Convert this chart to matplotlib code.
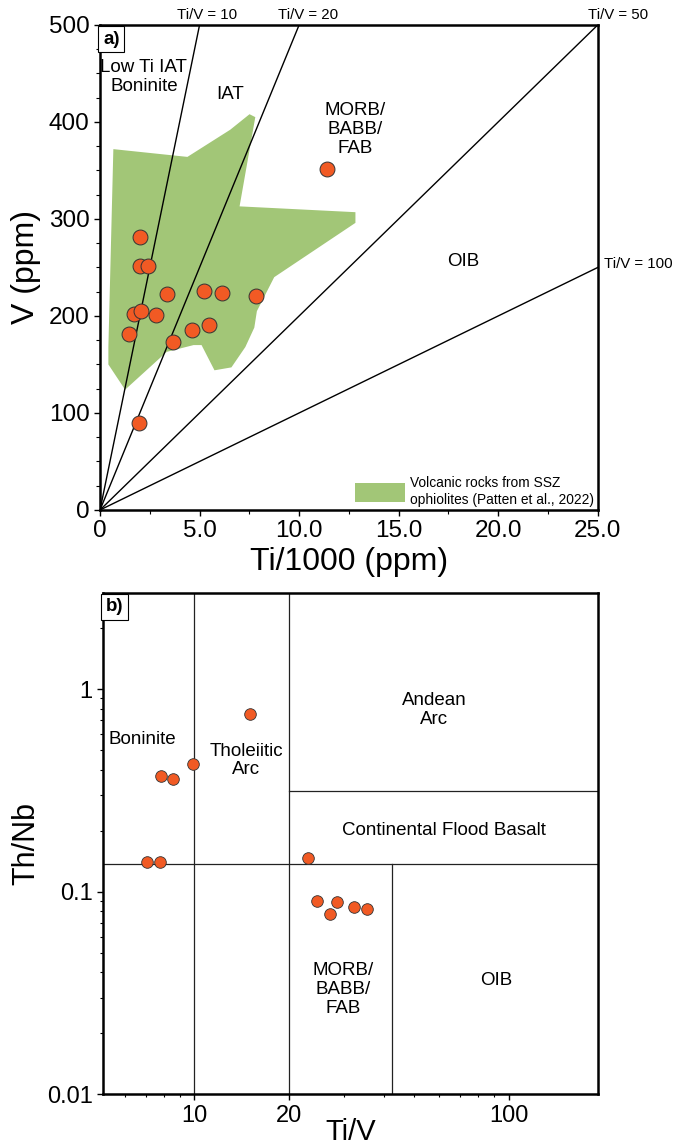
import matplotlib.pyplot as plt
import numpy as np
from matplotlib.patches import Patch, Polygon

plt.rcParams['font.family'] = ['Liberation Sans', 'DejaVu Sans']

# ---- panel a) Ti vs V data ----
ti_a = [2.0, 2.0, 2.43, 3.35, 5.23, 6.12, 7.85, 1.71, 2.05, 2.8, 1.47, 4.6, 5.45, 3.67, 1.98, 11.4]
v_a = [281, 252, 252, 223, 226, 224, 221, 202, 205, 201, 181, 186, 191, 173, 90, 352]

# SSZ ophiolite field (Patten et al., 2022), outline vertices
field_ti = [0.67, 4.39, 6.54, 7.51, 7.80, 7.01, 12.83, 12.83, 8.75, 7.88, 7.75, 7.3,
            6.6, 5.75, 5.1, 4.7, 3.35, 1.26, 0.42, 0.42]
field_v = [372, 364, 392, 408, 405, 313, 307, 296, 240, 205, 188, 168,
           147, 144, 170, 170, 163, 124, 150, 168]

tiv_ratios = [10, 20, 50, 100]

# ---- panel b) Ti/V vs Th/Nb data ----
tiv_b = [15.0, 9.92, 7.81, 8.57, 7.05, 7.77, 22.96, 24.6, 28.4, 27.1, 32.2, 35.4]
thnb_b = [0.753, 0.429, 0.371, 0.360, 0.140, 0.140, 0.147, 0.090, 0.089, 0.078, 0.084, 0.082]

orange = '#F15A24'
green = '#A2C677'
reg_fs = 13.5

fig = plt.figure(figsize=(6.86, 11.46), dpi=100)

# ================= panel a =================
ax1 = fig.add_axes([0.1458, 0.555, 0.7255, 0.4232])
ax1.set_xlim(0, 25)
ax1.set_ylim(0, 500)

ax1.add_patch(Polygon(np.column_stack([field_ti, field_v]), closed=True,
                      facecolor=green, edgecolor='none', zorder=1))

xx = np.array([0, 25])
for r in tiv_ratios:
    ax1.plot(xx, xx * 1000 / r, color='black', lw=1.0, zorder=2)

ax1.scatter(ti_a, v_a, s=115, color=orange, edgecolor='#333333', linewidth=0.7, zorder=3)

ax1.text(5.37, 503, 'Ti/V = 10', fontsize=10.8, ha='center', va='bottom', clip_on=False)
ax1.text(10.46, 503, 'Ti/V = 20', fontsize=10.8, ha='center', va='bottom', clip_on=False)
ax1.text(26.0, 503, 'Ti/V = 50', fontsize=10.8, ha='center', va='bottom', clip_on=False)
ax1.text(25.3, 254, 'Ti/V = 100', fontsize=10.8, ha='left', va='center', clip_on=False)

ax1.text(2.2, 446, 'Low Ti IAT\nBoninite', fontsize=reg_fs, ha='center', va='center', linespacing=1.15)
ax1.text(6.54, 428, 'IAT', fontsize=reg_fs, ha='center', va='center')
ax1.text(12.8, 392, 'MORB/\nBABB/\nFAB', fontsize=reg_fs, ha='center', va='center', linespacing=1.15)
ax1.text(18.27, 256, 'OIB', fontsize=reg_fs, ha='center', va='center')

ax1.text(0.006, 0.988, 'a)', transform=ax1.transAxes, fontsize=13.5, fontweight='bold',
         ha='left', va='top',
         bbox=dict(boxstyle='square,pad=0.25', facecolor='white', edgecolor='black', lw=0.8))

ax1.set_xticks([0, 5, 10, 15, 20, 25])
ax1.set_xticklabels(['0', '5.0', '10.0', '15.0', '20.0', '25.0'])
ax1.set_xticks(np.arange(0, 25.1, 2.5), minor=True)
ax1.set_yticks([0, 100, 200, 300, 400, 500])
ax1.set_yticks(np.arange(0, 501, 25), minor=True)
ax1.tick_params(axis='both', which='major', labelsize=17.5, length=4, width=1, direction='out')
ax1.tick_params(axis='both', which='minor', length=3, width=0.8, direction='out')
for s in ax1.spines.values():
    s.set_linewidth(1.8)

ax1.set_xlabel('Ti/1000 (ppm)', fontsize=23, labelpad=3)
ax1.set_ylabel('V (ppm)', fontsize=23, labelpad=6)

ax1.legend(handles=[Patch(facecolor=green, edgecolor='none',
                          label='Volcanic rocks from SSZ\nophiolites (Patten et al., 2022)')],
           loc='lower right', frameon=False, fontsize=9.9, handlelength=3.6,
           handleheight=1.7, handletextpad=0.4, borderaxespad=0.05, borderpad=0.2)

# ================= panel b =================
ax2 = fig.add_axes([0.1501, 0.0451, 0.7211, 0.4372])
ax2.set_xscale('log')
ax2.set_yscale('log')
ax2.set_xlim(5.12, 192)
ax2.set_ylim(0.01, 2.97)

lc = '#222222'
ax2.plot([10, 10], [0.01, 2.97], color=lc, lw=0.9, zorder=1)
ax2.plot([20, 20], [0.01, 2.97], color=lc, lw=0.9, zorder=1)
ax2.plot([5.12, 192], [0.137, 0.137], color=lc, lw=0.9, zorder=1)
ax2.plot([20, 192], [0.314, 0.314], color=lc, lw=0.9, zorder=1)
ax2.plot([42.5, 42.5], [0.01, 0.137], color=lc, lw=0.9, zorder=1)

ax2.scatter(tiv_b, thnb_b, s=70, color=orange, edgecolor='#333333', linewidth=0.6, zorder=3)

ax2.text(6.84, 0.565, 'Boninite', fontsize=reg_fs, ha='center', va='center')
ax2.text(14.6, 0.444, 'Tholeiitic\nArc', fontsize=reg_fs, ha='center', va='center', linespacing=1.15)
ax2.text(57.9, 0.79, 'Andean\nArc', fontsize=reg_fs, ha='center', va='center', linespacing=1.15)
ax2.text(62.1, 0.2, 'Continental Flood Basalt', fontsize=reg_fs, ha='center', va='center')
ax2.text(29.7, 0.033, 'MORB/\nBABB/\nFAB', fontsize=reg_fs, ha='center', va='center', linespacing=1.15)
ax2.text(91.2, 0.0364, 'OIB', fontsize=reg_fs, ha='center', va='center')

ax2.text(0.006, 0.99, 'b)', transform=ax2.transAxes, fontsize=13.5, fontweight='bold',
         ha='left', va='top',
         bbox=dict(boxstyle='square,pad=0.25', facecolor='white', edgecolor='black', lw=0.8))

ax2.set_xticks([10, 20, 100])
ax2.set_xticklabels(['10', '20', '100'])
ax2.xaxis.set_minor_formatter(plt.NullFormatter())
ax2.set_yticks([0.01, 0.1, 1])
ax2.set_yticklabels(['0.01', '0.1', '1'])
ax2.yaxis.set_minor_formatter(plt.NullFormatter())
ax2.tick_params(axis='both', which='major', labelsize=17, length=4, width=1, direction='out')
ax2.tick_params(axis='both', which='minor', length=2.5, width=0.8, direction='out')
for s in ax2.spines.values():
    s.set_linewidth(1.8)

ax2.set_xlabel('Ti/V', fontsize=21, labelpad=-6)
ax2.set_ylabel('Th/Nb', fontsize=22, labelpad=4)

fig.savefig('out.png', dpi=100)
